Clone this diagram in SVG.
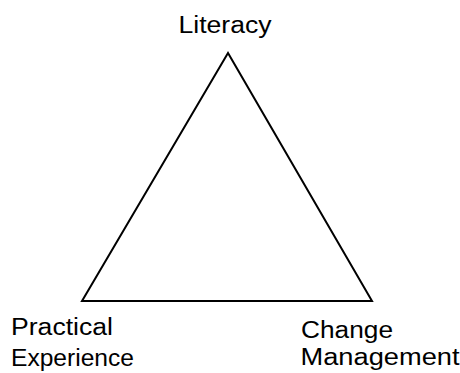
<svg xmlns="http://www.w3.org/2000/svg" width="460" height="373" viewBox="0 0 460 373">
<style>
.lbl{font-family:"Liberation Sans",Arial,sans-serif;font-size:23.5px;fill:#000}
.edge{fill:none;stroke:#000;stroke-width:2;stroke-linejoin:miter}
</style>
<rect width="460" height="373" fill="#fff"/>
<g id="connectors">
<polygon class="edge" points="228,53 82,301 372,301"/>
</g>
<g id="node-literacy">
<text class="lbl" x="178.5" y="33" textLength="93" lengthAdjust="spacingAndGlyphs">Literacy</text>
</g>
<g id="node-practical-experience">
<text class="lbl" x="11" y="335" textLength="102" lengthAdjust="spacingAndGlyphs">Practical</text>
<text class="lbl" x="11" y="366" textLength="123" lengthAdjust="spacingAndGlyphs">Experience</text>
</g>
<g id="node-change-management">
<text class="lbl" x="301" y="338" textLength="92" lengthAdjust="spacingAndGlyphs">Change</text>
<text class="lbl" x="300.5" y="365" textLength="159" lengthAdjust="spacingAndGlyphs">Management</text>
</g>
</svg>
